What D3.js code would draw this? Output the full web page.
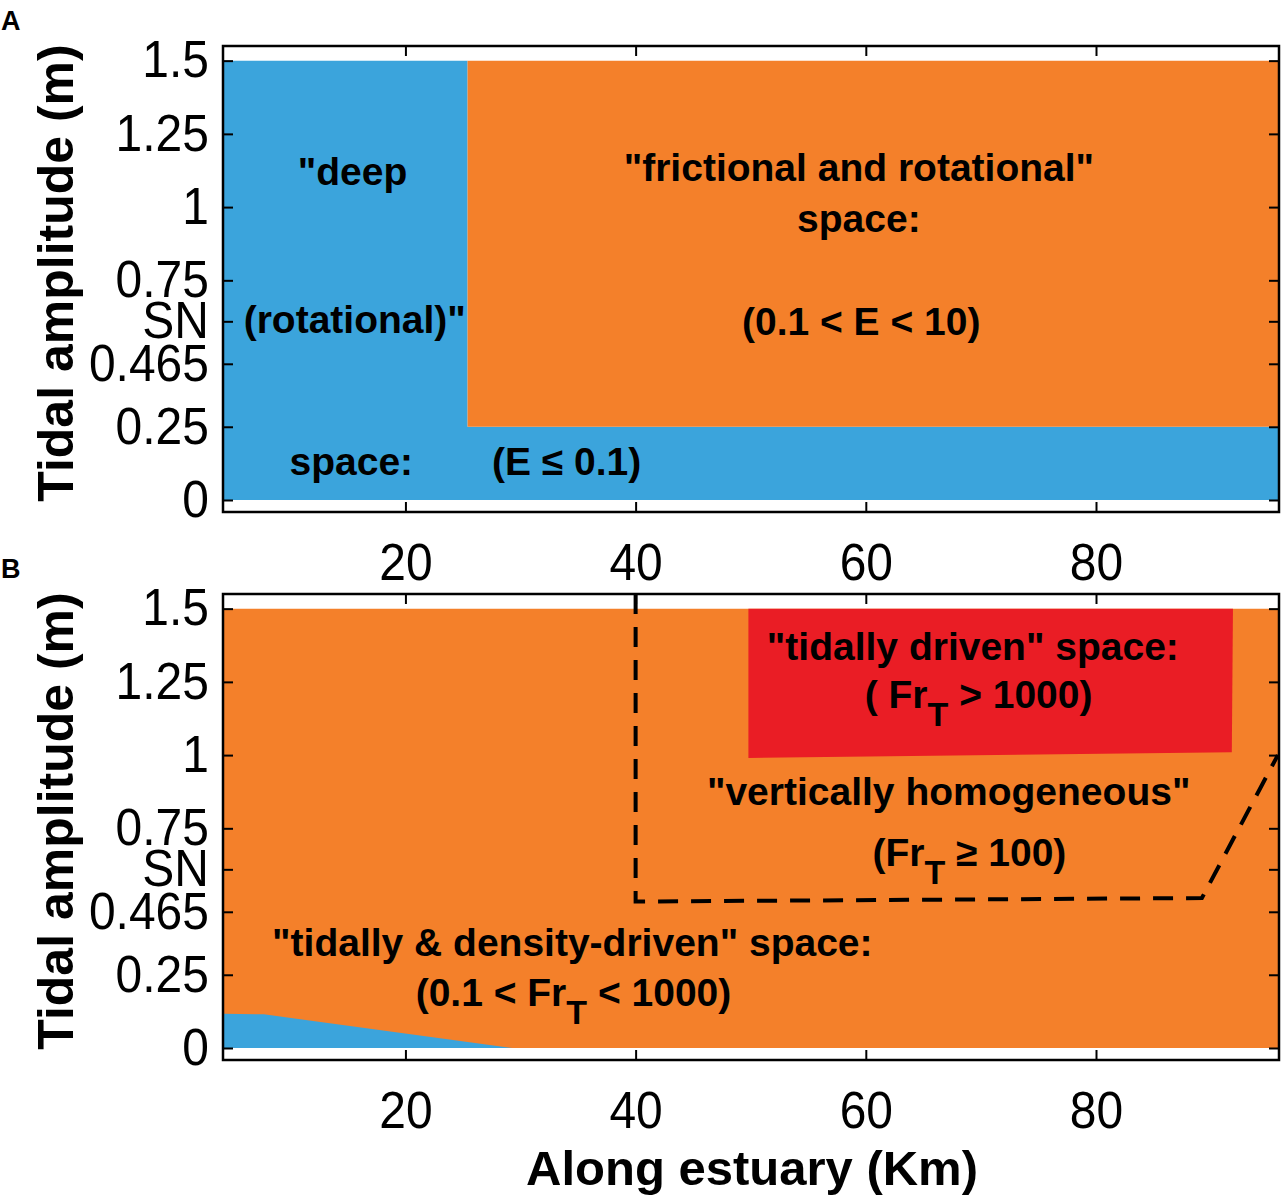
<!DOCTYPE html>
<html>
<head>
<meta charset="utf-8">
<script src="https://d3js.org/d3.v7.min.js"></script>
<style>
  body { margin: 0; background: #fff; }
  text { font-family: "Liberation Sans", Arial, Helvetica, sans-serif; }
</style>
</head>
<body>
<script>
// ---- data ----
var xDomain = [4.15, 95.9];
var yDomain = [-0.041, 1.55];
var xTicks = [20, 40, 60, 80];
var yTicks = [0, 0.25, 0.465, 0.61, 0.75, 1, 1.25, 1.5];
var yTickLabels = ["0", "0.25", "0.465", "SN", "0.75", "1", "1.25", "1.5"];

// panel A: Ekman-number regimes
var blueA = [[4.15, 0], [95.9, 0], [95.9, 0.25], [25.4, 0.25], [25.4, 1.5], [4.15, 1.5]];
var orangeA = [[25.4, 0.25], [95.9, 0.25], [95.9, 1.5], [25.4, 1.5]];

// panel B: tidal Froude-number regimes
var orangeB = [[4.15, 0], [95.9, 0], [95.9, 1.5], [4.15, 1.5]];
var blueB = [[4.15, 0], [4.15, 0.117], [7.7, 0.115], [29.3, 0]];
var redB = [[49.8, 1.5], [91.9, 1.5], [91.8, 1.01], [49.8, 0.99]];
var dashB = [[40, 1.55], [40, 0.5], [89.2, 0.512], [95.8, 1.0]];

var colBlue = "#3ba4dc", colOrange = "#f4802a", colRed = "#ea1d25";

var W = 1288, H = 1199;
var svg = d3.select("body").append("svg")
  .attr("width", W).attr("height", H);

var x = d3.scaleLinear().domain(xDomain).range([223, 1279]);

function panel(top, letter, shapes, labels) {
  var y = d3.scaleLinear().domain(yDomain).range([top + 466, top]);
  var g = svg.append("g");
  var line = d3.line().x(function(d) { return x(d[0]); }).y(function(d) { return y(d[1]); });

  shapes.forEach(function(s) {
    var p = g.append("path").attr("d", line(s.pts) + (s.dash ? "" : "Z"));
    if (s.dash) {
      p.attr("fill", "none").attr("stroke", "#000")
        .attr("stroke-width", 4).attr("stroke-dasharray", "20,13");
    } else {
      p.attr("fill", s.fill).attr("stroke", "none");
    }
  });

  // axes, ticks pointing inward
  var left = g.append("g").attr("transform", "translate(" + x.range()[0] + ",0)")
    .call(d3.axisLeft(y).tickValues(yTicks)
      .tickFormat(function(d, i) { return yTickLabels[i]; })
      .tickSize(-10).tickSizeOuter(0).tickPadding(15));
  var right = g.append("g").attr("transform", "translate(" + x.range()[1] + ",0)")
    .call(d3.axisRight(y).tickValues(yTicks).tickFormat("").tickSize(-10).tickSizeOuter(0));
  var bottom = g.append("g").attr("transform", "translate(0," + y.range()[0] + ")")
    .call(d3.axisBottom(x).tickValues(xTicks).tickFormat(d3.format("d"))
      .tickSize(-10).tickSizeOuter(0).tickPadding(32));
  var topAx = g.append("g").attr("transform", "translate(0," + y.range()[1] + ")")
    .call(d3.axisTop(x).tickValues(xTicks).tickFormat("").tickSize(-10).tickSizeOuter(0));

  [left, right, bottom, topAx].forEach(function(a) {
    a.select(".domain").remove();
    a.selectAll(".tick line").attr("stroke", "#000").attr("stroke-width", 2);
    a.selectAll(".tick text").attr("fill", "#000")
      .attr("font-size", "51px")
      .attr("transform", "scale(0.94,1)")
      .attr("font-family", "'Liberation Sans', Arial, sans-serif");
  });

  g.append("rect")
    .attr("x", x.range()[0]).attr("y", y.range()[1])
    .attr("width", x.range()[1] - x.range()[0])
    .attr("height", y.range()[0] - y.range()[1])
    .attr("fill", "none").attr("stroke", "#000").attr("stroke-width", 2.5);

  // y title
  g.append("text")
    .attr("transform", "translate(73," + (top + 227) + ") rotate(-90)")
    .attr("text-anchor", "middle")
    .attr("font-size", "50px").attr("font-weight", "bold")
    .text("Tidal amplitude (m)");

  // panel letter
  g.append("text")
    .attr("x", 1).attr("y", top - 16)
    .attr("font-size", "27px").attr("font-weight", "bold")
    .text(letter);

  // region annotations
  labels.forEach(function(l) {
    var t = g.append("text")
      .attr("x", x(l.x)).attr("y", y(l.y))
      .attr("text-anchor", "middle")
      .attr("font-size", "39px").attr("font-weight", "bold");
    if (l.sub) {
      t.append("tspan").text(l.text[0]);
      t.append("tspan").attr("dy", 18).attr("font-size", "34px").text(l.sub);
      t.append("tspan").attr("dy", -18).text(l.text[1]);
    } else {
      t.text(l.text);
    }
  });
}

panel(46, "A",
  [{pts: blueA, fill: colBlue}, {pts: orangeA, fill: colOrange}],
  [
    {x: 15.4, y: 1.075, text: "\"deep"},
    {x: 15.6, y: 0.57, text: "(rotational)\""},
    {x: 15.3, y: 0.085, text: "space:"},
    {x: 34.0, y: 0.085, text: "(E \u2264 0.1)"},
    {x: 59.4, y: 1.09, text: "\"frictional and rotational\""},
    {x: 59.4, y: 0.915, text: "space:"},
    {x: 59.6, y: 0.565, text: "(0.1 < E < 10)"}
  ]);

panel(594, "B",
  [{pts: orangeB, fill: colOrange}, {pts: blueB, fill: colBlue},
   {pts: redB, fill: colRed}, {pts: dashB, dash: true}],
  [
    {x: 69.3, y: 1.325, text: "\"tidally driven\" space:"},
    {x: 69.8, y: 1.16, text: ["( Fr", " > 1000)"], sub: "T"},
    {x: 67.2, y: 0.83, text: "\"vertically homogeneous\""},
    {x: 69.0, y: 0.62, text: ["(Fr", " \u2265 100)"], sub: "T"},
    {x: 34.5, y: 0.315, text: "\"tidally & density-driven\" space:"},
    {x: 34.6, y: 0.145, text: ["(0.1 < Fr", " < 1000)"], sub: "T"}
  ]);

// x title
svg.append("text")
  .attr("x", 752).attr("y", 1185)
  .attr("text-anchor", "middle")
  .attr("font-size", "49px").attr("font-weight", "bold")
  .text("Along estuary (Km)");
</script>
</body>
</html>
